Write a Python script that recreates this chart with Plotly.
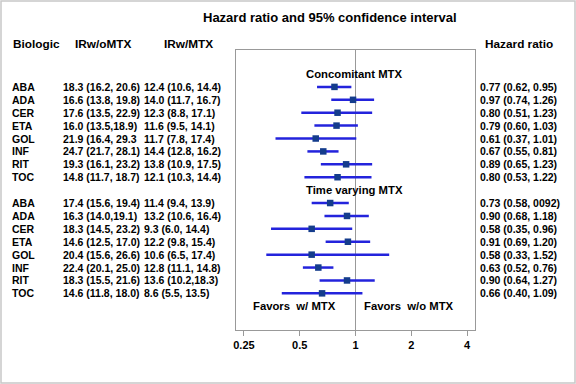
import plotly.graph_objects as go

# ---------------- data ----------------
biologics = ["ABA", "ADA", "CER", "ETA", "GOL", "INF", "RIT", "TOC"]

conc_ir_wo = ["18.3 (16.2, 20.6)", "16.6 (13.8, 19.8)", "17.6 (13.5, 22.9)", "16.0 (13.5,18.9)",
              "21.9 (16.4, 29.3", "24.7 (21.7, 28.1)", "19.3 (16.1, 23.2)", "14.8 (11.7, 18.7)"]
conc_ir_w = ["12.4 (10.6, 14.4)", "14.0 (11.7, 16.7)", "12.3 (8.8, 17.1)", "11.6 (9.5, 14.1)",
             "11.7 (7.8, 17.4)", "14.4 (12.8, 16.2)", "13.8 (10.9, 17.5)", "12.1 (10.3, 14.4)"]
conc_hr = [0.77, 0.97, 0.80, 0.79, 0.61, 0.67, 0.89, 0.80]
conc_lo = [0.62, 0.74, 0.51, 0.60, 0.37, 0.55, 0.65, 0.53]
conc_hi = [0.95, 1.26, 1.23, 1.03, 1.01, 0.81, 1.23, 1.22]
conc_hr_text = ["0.77 (0.62, 0.95)", "0.97 (0.74, 1.26)", "0.80 (0.51, 1.23)", "0.79 (0.60, 1.03)",
                "0.61 (0.37, 1.01)", "0.67 (0.55, 0.81)", "0.89 (0.65, 1.23)", "0.80 (0.53, 1.22)"]

tv_ir_wo = ["17.4 (15.6, 19.4)", "16.3 (14.0,19.1)", "18.3 (14.5, 23.2)", "14.6 (12.5, 17.0)",
            "20.4 (15.6, 26.6)", "22.4 (20.1, 25.0)", "18.3 (15.5, 21.6)", "14.6 (11.8, 18.0)"]
tv_ir_w = ["11.4 (9.4, 13.9)", "13.2 (10.6, 16.4)", "9.3 (6.0, 14.4)", "12.2 (9.8, 15.4)",
           "10.6 (6.5, 17.4)", "12.8 (11.1, 14.8)", "13.6 (10.2,18.3)", "8.6 (5.5, 13.5)"]
tv_hr = [0.73, 0.90, 0.58, 0.91, 0.58, 0.63, 0.90, 0.66]
tv_lo = [0.58, 0.68, 0.35, 0.69, 0.33, 0.52, 0.64, 0.40]
tv_hi = [0.92, 1.18, 0.96, 1.20, 1.52, 0.76, 1.27, 1.09]
tv_hr_text = ["0.73 (0.58, 0092)", "0.90 (0.68, 1.18)", "0.58 (0.35, 0.96)", "0.91 (0.69, 1.20)",
              "0.58 (0.33, 1.52)", "0.63 (0.52, 0.76)", "0.90 (0.64, 1.27)", "0.66 (0.40, 1.09)"]

tick_vals = [0.25, 0.5, 1, 2, 4]
tick_text = ["0.25", "0.5", "1", "2", "4"]

# ---------------- layout helpers ----------------
W, H = 576, 384
L, R, T, B = 236, 475, 50, 330
FONT = "Liberation Sans, Arial, Helvetica, sans-serif"


def px(x):
    return (x - L) / (R - L)


def py(y):
    return (B - y) / (B - T)


conc_rows = list(range(2, 10))
tv_rows = list(range(11, 19))
hdr1_row, hdr2_row, fav_row = 1, 10, 19

fig = go.Figure()

# reference line at HR = 1
fig.add_trace(go.Scatter(x=[1, 1], y=[-2, 23], mode="lines",
                         line=dict(color="#999999", width=1), hoverinfo="skip"))

line_col = "#2323dc"
mark_col = "#143c8c"
for hr, lo, hi, rows in [(conc_hr, conc_lo, conc_hi, conc_rows), (tv_hr, tv_lo, tv_hi, tv_rows)]:
    xs, ys = [], []
    for l, h, r in zip(lo, hi, rows):
        xs += [l, h, None]
        ys += [r, r, None]
    fig.add_trace(go.Scatter(x=xs, y=ys, mode="lines",
                             line=dict(color=line_col, width=2.5), hoverinfo="skip"))
    fig.add_trace(go.Scatter(x=hr, y=rows, mode="markers",
                             marker=dict(symbol="square", size=6.5, color=mark_col), hoverinfo="skip"))

ann = []


def txt(text, x, y, xref="paper", yref="y", size=10.5, xanchor="left"):
    ann.append(dict(text=text, x=x, y=y, xref=xref, yref=yref, showarrow=False,
                    xanchor=xanchor, yanchor="middle", borderpad=0,
                    font=dict(family=FONT, size=size, color="black", weight="bold")))


for names, c1, c2, hrt, rows in [(biologics, conc_ir_wo, conc_ir_w, conc_hr_text, conc_rows),
                                 (biologics, tv_ir_wo, tv_ir_w, tv_hr_text, tv_rows)]:
    for n, a, b, h, r in zip(names, c1, c2, hrt, rows):
        txt(n, px(11), r)
        txt(a, px(62), r)
        txt(b, px(143), r)
        txt(h, px(479), r)

# headers
txt("Hazard ratio and 95% confidence interval", px(329.5), py(17.5), yref="paper", size=13, xanchor="center")
txt("Biologic", px(12), py(44), yref="paper", size=11.8)
txt("IRw/oMTX", px(102.5), py(44), yref="paper", size=11.8, xanchor="center")
txt("IRw/MTX", px(188), py(44), yref="paper", size=11.8, xanchor="center")
txt("Hazard ratio", px(518.5), py(44), yref="paper", size=11.8, xanchor="center")

txt("Concomitant MTX", px(353.5), hdr1_row, size=11.3, xanchor="center")
txt("Time varying MTX", px(354.5), hdr2_row, size=11.3, xanchor="center")
txt("Favors\u00a0 w/ MTX", px(337), fav_row, size=11.3, xanchor="right")
txt("Favors\u00a0 w/o MTX", px(363), fav_row, size=11.3, xanchor="left")

fig.update_layout(
    width=W, height=H, autosize=False,
    margin=dict(l=L, r=W - R, t=T, b=H - B, pad=0),
    paper_bgcolor="white", plot_bgcolor="white",
    showlegend=False,
    hovermode=False,
    annotations=ann,
    shapes=[dict(type="rect", xref="paper", yref="paper",
                 x0=px(1), x1=px(575), y0=py(383), y1=py(1),
                 line=dict(color="#c8c8c8", width=1.5), fillcolor="rgba(0,0,0,0)", layer="above")],
    xaxis=dict(type="log", range=[-0.645, 0.645], tickvals=tick_vals, ticktext=tick_text,
               ticks="outside", ticklen=5, tickcolor="#999999", showgrid=False, zeroline=False,
               showline=True, mirror=True, linecolor="#999999", linewidth=1,
               tickfont=dict(family=FONT, size=11, color="black", weight="bold")),
    yaxis=dict(range=[20.84, -0.86], showticklabels=False, ticks="", showgrid=False,
               zeroline=False, showline=True, mirror=True, linecolor="#999999", linewidth=1),
)

fig.write_html("out.html", config={"displayModeBar": False},
               post_script="document.body.style.margin='0';document.body.style.padding='0';")
